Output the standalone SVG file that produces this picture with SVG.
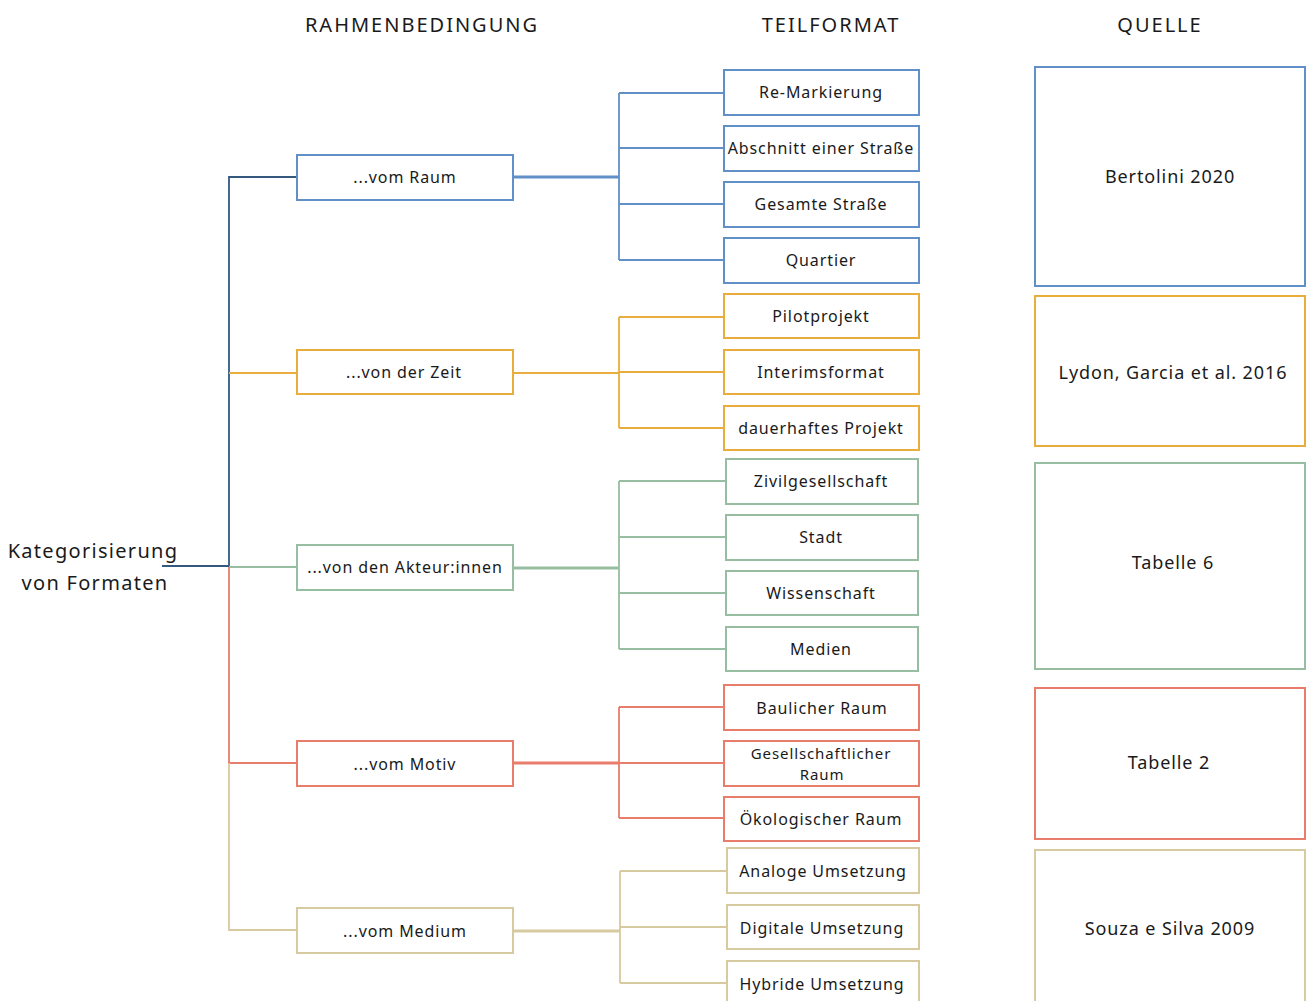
<svg xmlns="http://www.w3.org/2000/svg" width="1311" height="1001" viewBox="0 0 1311 1001">
  <style>
    text { font-family: "Noto Sans", "Open Sans", "DejaVu Sans", sans-serif; fill: #1a1a1a; text-anchor: middle; dominant-baseline: central; }
    .hdr { font-size: 20px; letter-spacing: 2px; }
    .root { font-size: 20px; letter-spacing: 1.3px; }
    .l1 { font-size: 16px; letter-spacing: 0.9px; }
    .l2 { font-size: 16px; letter-spacing: 0.9px; }
    .l2s { font-size: 15px; letter-spacing: 0.9px; }
    .src { font-size: 18px; letter-spacing: 0.9px; }
    rect { fill: #ffffff; stroke-width: 2; }
    .wire { fill: none; stroke-width: 1.8; }
    .bus { fill: none; stroke-width: 3; }
    .blue { stroke: #6190c8; }
    .navy { stroke: #34597f; }
    .orange { stroke: #e8ad3c; }
    .green { stroke: #97bea0; }
    .red { stroke: #e87d6c; }
    .tan { stroke: #d7c9a0; }
  </style>

  <!-- column headings -->
  <g id="headings">
    <text class="hdr" x="422" y="24">RAHMENBEDINGUNG</text>
    <text class="hdr" x="831" y="24">TEILFORMAT</text>
    <text class="hdr" x="1160" y="24">QUELLE</text>
  </g>

  <!-- connectors -->
  <g id="connectors">
    <!-- trunk -->
    <path class="wire navy" d="M162 566 H229 M229 566 V177 H297"/>
    <path class="wire orange" d="M229 373 H297"/>
    <path class="wire green" d="M229 567 H297"/>
    <path class="wire red" d="M229 567 V763 H297"/>
    <path class="wire tan" d="M229 763 V930 H297"/>

    <!-- Raum -->
    <path class="bus blue" d="M513 177 H619"/>
    <path class="wire blue" d="M619 93 V260 M619 93 H724 M619 148 H724 M619 204 H724 M619 260 H724"/>
    <!-- Zeit -->
    <path class="wire orange" d="M513 373 H619"/>
    <path class="wire orange" d="M619 317 V428 M619 317 H724 M619 372 H724 M619 428 H724"/>
    <!-- Akteur:innen -->
    <path class="bus green" d="M513 568 H619"/>
    <path class="wire green" d="M619 481 V649 M619 481 H726 M619 537 H726 M619 593 H726 M619 649 H726"/>
    <!-- Motiv -->
    <path class="bus red" d="M513 763 H619"/>
    <path class="wire red" d="M619 707 V818 M619 707 H724 M619 763 H724 M619 818 H724"/>
    <!-- Medium -->
    <path class="bus tan" d="M513 931 H620"/>
    <path class="wire tan" d="M620 871 V983 M620 871 H727 M620 927 H727 M620 983 H727"/>
  </g>

  <!-- root -->
  <g id="root">
    <text class="root" x="93" y="550">Kategorisierung</text>
    <text class="root" x="95" y="582">von Formaten</text>
  </g>

  <!-- framework conditions -->
  <g id="raum"><rect class="blue" x="297" y="155" width="216" height="45"/><text class="l1" x="405" y="177">...vom Raum</text></g>
  <g id="zeit"><rect class="orange" x="297" y="350" width="216" height="44"/><text class="l1" x="404" y="372">...von der Zeit</text></g>
  <g id="akteure"><rect class="green" x="297" y="545" width="216" height="45"/><text class="l1" x="405" y="567">...von den Akteur:innen</text></g>
  <g id="motiv"><rect class="red" x="297" y="741" width="216" height="45"/><text class="l1" x="405" y="764">...vom Motiv</text></g>
  <g id="medium"><rect class="tan" x="297" y="908" width="216" height="45"/><text class="l1" x="405" y="931">...vom Medium</text></g>

  <!-- sub-formats: Raum -->
  <g id="re-markierung"><rect class="blue" x="724" y="70" width="195" height="45"/><text class="l2" x="821" y="92">Re-Markierung</text></g>
  <g id="abschnitt"><rect class="blue" x="724" y="126" width="195" height="45"/><text class="l2" x="821" y="148">Abschnitt einer Straße</text></g>
  <g id="gesamte-strasse"><rect class="blue" x="724" y="182" width="195" height="45"/><text class="l2" x="821" y="204">Gesamte Straße</text></g>
  <g id="quartier"><rect class="blue" x="724" y="238" width="195" height="45"/><text class="l2" x="821" y="260">Quartier</text></g>

  <!-- sub-formats: Zeit -->
  <g id="pilotprojekt"><rect class="orange" x="724" y="294" width="195" height="44"/><text class="l2" x="821" y="316">Pilotprojekt</text></g>
  <g id="interimsformat"><rect class="orange" x="724" y="350" width="195" height="44"/><text class="l2" x="821" y="372">Interimsformat</text></g>
  <g id="dauerhaft"><rect class="orange" x="724" y="406" width="195" height="44"/><text class="l2" x="821" y="428">dauerhaftes Projekt</text></g>

  <!-- sub-formats: Akteur:innen -->
  <g id="zivilgesellschaft"><rect class="green" x="726" y="459" width="192" height="45"/><text class="l2" x="821" y="481">Zivilgesellschaft</text></g>
  <g id="stadt"><rect class="green" x="726" y="515" width="192" height="45"/><text class="l2" x="821" y="537">Stadt</text></g>
  <g id="wissenschaft"><rect class="green" x="726" y="571" width="192" height="44"/><text class="l2" x="821" y="593">Wissenschaft</text></g>
  <g id="medien"><rect class="green" x="726" y="627" width="192" height="44"/><text class="l2" x="821" y="649">Medien</text></g>

  <!-- sub-formats: Motiv -->
  <g id="baulich"><rect class="red" x="724" y="685" width="195" height="45"/><text class="l2" x="822" y="708">Baulicher Raum</text></g>
  <g id="gesellschaftlich"><rect class="red" x="724" y="741" width="195" height="45"/><text class="l2s" x="821" y="753">Gesellschaftlicher</text><text class="l2s" x="822" y="774">Raum</text></g>
  <g id="oekologisch"><rect class="red" x="724" y="797" width="195" height="44"/><text class="l2" x="821" y="819">Ökologischer Raum</text></g>

  <!-- sub-formats: Medium -->
  <g id="analog"><rect class="tan" x="727" y="848" width="192" height="45"/><text class="l2" x="823" y="871">Analoge Umsetzung</text></g>
  <g id="digital"><rect class="tan" x="727" y="905" width="192" height="44"/><text class="l2" x="822" y="928">Digitale Umsetzung</text></g>
  <g id="hybrid"><rect class="tan" x="727" y="961" width="192" height="45"/><text class="l2" x="822" y="984">Hybride Umsetzung</text></g>

  <!-- sources -->
  <g id="src-bertolini"><rect class="blue" x="1035" y="67" width="270" height="219"/><text class="src" x="1170" y="176">Bertolini 2020</text></g>
  <g id="src-lydon"><rect class="orange" x="1035" y="296" width="270" height="150"/><text class="src" x="1173" y="372">Lydon, Garcia et al. 2016</text></g>
  <g id="src-tab6"><rect class="green" x="1035" y="463" width="270" height="206"/><text class="src" x="1173" y="562">Tabelle 6</text></g>
  <g id="src-tab2"><rect class="red" x="1035" y="688" width="270" height="151"/><text class="src" x="1169" y="762">Tabelle 2</text></g>
  <g id="src-souza"><rect class="tan" x="1035" y="850" width="270" height="160"/><text class="src" x="1170" y="928">Souza e Silva 2009</text></g>
</svg>
